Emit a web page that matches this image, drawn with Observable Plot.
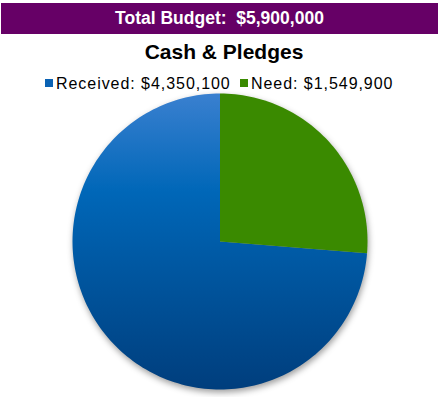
<!DOCTYPE html>
<html>
<head>
<meta charset="utf-8">
<script src="https://cdn.jsdelivr.net/npm/d3@7"></script>
<script src="https://cdn.jsdelivr.net/npm/@observablehq/plot@0.6"></script>
<style>
  html, body { margin: 0; padding: 0; background: #fff; }
  body { width: 439px; height: 397px; position: relative; overflow: hidden;
         font-family: "Liberation Sans", Arial, sans-serif; color: #000; }
  #banner { position: absolute; left: 1px; top: 3px; width: 437px; height: 31px;
            background: #660066; color: #fff; font-weight: bold; font-size: 17.5px;
            line-height: 31px; text-align: center; white-space: pre; }
  #title { position: absolute; left: 0; top: 40px; width: 448px; text-align: center;
           font-weight: bold; font-size: 21px; line-height: 24px; }
  .sw { position: absolute; width: 8px; height: 8px; top: 79px; }
  .lt { position: absolute; top: 75px; font-size: 16px; line-height: 18px;
        letter-spacing: 0.95px; white-space: pre; }
  #chart { position: absolute; left: 0; top: 92px; }
  #chart svg { filter: drop-shadow(1px 3px 3px rgba(0,0,0,0.38)); }
</style>
</head>
<body>
<div id="banner"></div>
<div id="title"></div>
<div id="legend"></div>
<div id="chart"></div>
<script>
// ---- data ----
const bannerLabel = "Total Budget:";
const totalBudget = 5900000;
const chartTitle = "Cash & Pledges";
const categories = ["Received", "Need"];
const values = [4350100, 1549900];

// ---- styles ----
const sliceFill = { Received: "url(#blueGrad)", Need: "#3a8a00" };
const swatchColor = { Received: "#0a62b4", Need: "#3a8a00" };
const legendX = { Received: [45, 56], Need: [240, 251] };

const fmt = d3.format("$,");
document.getElementById("banner").textContent = bannerLabel + "  " + fmt(totalBudget);
document.getElementById("title").textContent = chartTitle;

const legend = document.getElementById("legend");
categories.forEach((c, i) => {
  const sw = document.createElement("div");
  sw.className = "sw";
  sw.style.left = legendX[c][0] + "px";
  sw.style.background = swatchColor[c];
  legend.appendChild(sw);
  const t = document.createElement("div");
  t.className = "lt";
  t.style.left = legendX[c][1] + "px";
  t.textContent = c + ": " + fmt(values[i]);
  legend.appendChild(t);
});

// pie slices: Need starts at 12 o'clock, clockwise
const slices = categories.map((c, i) => ({ key: c, value: values[i] })).reverse();
const arcs = d3.pie().sort(null).value(d => d.value)(slices);

const steps = 240;
const points = [];
arcs.forEach(a => {
  points.push({ key: a.data.key, x: 0, y: 0 });
  const n = Math.max(2, Math.ceil(steps * (a.endAngle - a.startAngle) / (2 * Math.PI)));
  for (let i = 0; i <= n; i++) {
    const t = a.startAngle + (a.endAngle - a.startAngle) * i / n;
    points.push({ key: a.data.key, x: Math.sin(t), y: Math.cos(t) });
  }
});

const svg = Plot.plot({
  width: 439,
  height: 305,
  marginLeft: 72,
  marginRight: 72,
  marginTop: 1,
  marginBottom: 8,
  style: { background: "none", overflow: "visible" },
  x: { domain: [-1, 1], axis: null },
  y: { domain: [-1, 1], axis: null },
  marks: categories.map(c =>
    Plot.line(points.filter(p => p.key === c), {
      x: "x", y: "y", curve: "linear-closed",
      fill: sliceFill[c], stroke: "none"
    })
  )
});

d3.select(svg).insert("defs", ":first-child").html(
  `<linearGradient id="blueGrad" x1="0" y1="0" x2="0" y2="1">
     <stop offset="0" stop-color="#3a80d0"/>
     <stop offset="0.33" stop-color="#0067b8"/>
     <stop offset="1" stop-color="#003e7d"/>
   </linearGradient>`
);
document.getElementById("chart").appendChild(svg);
</script>
</body>
</html>
